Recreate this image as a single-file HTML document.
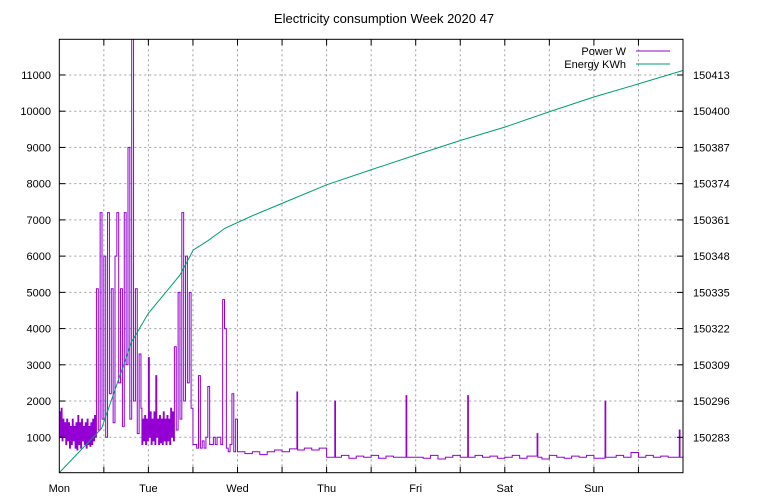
<!DOCTYPE html>
<html><head><meta charset="utf-8"><style>
body{margin:0;background:#fff}
svg{display:block;font-family:"Liberation Sans",sans-serif;font-size:11px}
</style></head><body>
<svg id="chart" width="768" height="500" xmlns="http://www.w3.org/2000/svg">
<text x="384" y="23" text-anchor="middle" style="font-size:13px">Electricity consumption Week 2020 47</text>
<g id="grid"></g>
<defs><clipPath id="clip"><rect x="59.3" y="39.3" width="623.7" height="433.4"/></clipPath></defs>
<g id="series" clip-path="url(#clip)"></g>
<rect x="59.3" y="39.3" width="623.7" height="433.4" fill="none" stroke="#000" stroke-width="1"/>
<g id="axes"></g>
<g>
<text x="626" y="55" text-anchor="end">Power W</text>
<line x1="636" y1="51" x2="670" y2="51" stroke="#9400d3"/>
<text x="626" y="68" text-anchor="end">Energy KWh</text>
<line x1="636" y1="64" x2="670" y2="64" stroke="#009e73"/>
</g>
</svg>
<script>
const dayLabels=["Mon","Tue","Wed","Thu","Fri","Sat","Sun"];
const leftTicks=[1000,2000,3000,4000,5000,6000,7000,8000,9000,10000,11000];
const rightTicks=[150283,150296,150309,150322,150335,150348,150361,150374,150387,150400,150413];
const powerTimes=[0,0.25,0.5,0.75,1,1.25,1.5,1.75,2,2.25,2.5,2.75,3,3.25,3.5,3.75,4,4.25,4.5,4.75,5,5.25,5.5,5.75,6,6.25,6.5,6.75,7,7.25,7.5,7.75,8,8.25,8.5,8.75,9,9.25,9.5,9.75,
10,10.5,11,11.5,12,12.5,13,13.5,14,14.5,15,15.5,16,16.5,17,17.5,18,18.5,19,19.5,20,20.5,21,21.5,
22,22.25,22.5,22.75,23,23.25,23.5,23.75,24,24.25,24.5,24.75,25,25.25,25.5,25.75,26,26.25,26.5,26.75,27,27.25,27.5,27.75,28,28.25,28.5,28.75,29,29.25,29.5,29.75,30,30.25,30.5,30.75,
31,31.5,32,32.5,33,33.5,34,34.5,35,35.5,
36,36.5,37,37.5,38,38.5,39,39.5,40,40.5,41,41.5,42,42.5,43,43.5,44,44.5,45,45.5,46,46.5,47,47.5,
48,50,52,54,56,58,60,62,64,64.2,66,68,70,72,74,74.2,74.4,76,78,80,82,84,86,88,90,93.4,93.6,96,98,100,102,104,106,108,110,110.2,112,114,116,118,120,122,124,126,128.7,128.9,130,132,134,136,138,140,142,144,147,147.2,150,152,154,156,158,160,162,164,167,167.2,168];
const powerValues=[1700,1000,1800,900,1500,1000,1400,800,1500,900,1400,700,1300,800,1500,900,1300,700,1400,650,1600,800,1400,700,1500,900,1300,800,1400,700,1500,800,1300,750,1400,800,1500,900,1600,1000,
5100,1200,7200,1500,6000,1000,7200,2200,5100,1400,6000,7200,2500,5100,1300,7200,3000,9000,1500,12000,2000,5100,1100,3300,
1800,800,1500,900,1600,800,1500,900,3200,1000,1700,800,1500,900,1700,800,2700,1000,1500,800,1600,850,1500,800,1700,900,1500,800,1600,900,1500,800,1800,1000,1700,900,
3500,1200,5000,1500,7200,2000,6000,2500,5000,1800,
800,800,700,2700,700,900,700,1000,2400,800,800,1000,800,1000,1000,800,4800,4000,700,600,800,2200,600,1500,
600,550,600,520,600,650,600,680,2250,650,700,650,700,450,450,2000,450,500,420,480,450,500,420,480,450,2150,450,450,420,500,400,450,500,450,2150,450,500,450,480,420,450,500,420,480,1100,450,400,500,450,420,480,450,500,420,2000,450,500,450,580,450,500,450,480,450,1200,450,450];
const energyTimes=[0,11.4,19.5,24,32.5,36.1,40,44.6,52,62.1,72,84,96,108,120,132,144,156,168];
const energyValues=[150270.3,150286.2,150317.3,150327.5,150341.2,150350.2,150353.5,150358,150362.5,150368.1,150373.6,150379,150384.3,150389.5,150394.3,150399.8,150405.1,150409.8,150414.6];

const X0=59.3,X1=683,Y0=39.3,Y1=472.7;
const xS=h=>X0+h*(X1-X0)/168;
const yL=w=>473.5-w*0.03623;
const yR=e=>437.3-(e-150283)*2.787;
const NS="http://www.w3.org/2000/svg";
function mk(tag,attrs,parent){const el=document.createElementNS(NS,tag);for(const k in attrs)el.setAttribute(k,attrs[k]);parent.appendChild(el);return el;}
const grid=document.getElementById('grid'),axes=document.getElementById('axes'),series=document.getElementById('series');
for(let h=12;h<168;h+=12){
 const gl=mk('line',{x1:xS(h),x2:xS(h),y1:Y0,y2:Y1,stroke:'#a0a0a0','stroke-dasharray':'2,3'},grid);
 
 
 const t1=mk('line',{x1:xS(h),x2:xS(h),y1:Y1,y2:Y1-6,stroke:'#000'},axes);
 
 
 const t2=mk('line',{x1:xS(h),x2:xS(h),y1:Y0,y2:Y0+6,stroke:'#000'},axes);
 
 
}
dayLabels.forEach((d,i)=>{
 const t=mk('text',{x:xS(i*24),y:492,'text-anchor':'middle'},axes);t.textContent=d;
 
 
});
leftTicks.forEach(v=>{
 const y=yL(v);
 const gl=mk('line',{x1:X0,x2:X1,y1:y,y2:y,stroke:'#a0a0a0','stroke-dasharray':'2,3'},grid);
 
 
 const tk=mk('line',{x1:X0,x2:X0+6,y1:y,y2:y,stroke:'#000'},axes);
 
 
 const t=mk('text',{x:51,y:y+4,'text-anchor':'end'},axes);t.textContent=v;
 
 
});
rightTicks.forEach(v=>{
 const y=yR(v);
 const tk=mk('line',{x1:X1,x2:X1-6,y1:y,y2:y,stroke:'#000'},axes);
 
 
 const t=mk('text',{x:693,y:y+4},axes);t.textContent=v;
 
 
});
let d='M'+xS(powerTimes[0])+' '+yL(powerValues[0]);
for(let i=1;i<powerTimes.length;i++){d+=' H'+xS(powerTimes[i])+' V'+yL(powerValues[i]);}
const pp=mk('path',{d:d,fill:'none',stroke:'#9400d3','stroke-width':1},series);


let d2='';
for(let i=0;i<energyTimes.length;i++){d2+=(i?' L':'M')+xS(energyTimes[i])+' '+yR(energyValues[i]);}
const ep=mk('path',{d:d2,fill:'none',stroke:'#009e73','stroke-width':1},series);


</script>
</body></html>
